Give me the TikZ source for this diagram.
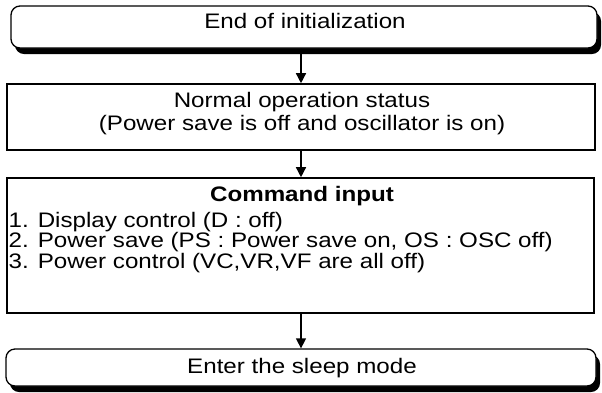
\documentclass[tikz,border=0pt]{standalone}
\usepackage{fontspec}
\setmainfont{Liberation Sans}[FakeStretch=1.15]
\usetikzlibrary{arrows.meta,shadows}

\begin{document}
\begin{tikzpicture}[x=1pt, y=-1pt, >={Triangle[width=10pt,length=10pt]},
    endbox/.style={draw, line width=1.3pt, rounded corners=9pt, fill=white,
      drop shadow={shadow xshift=4pt, shadow yshift=-6pt, fill=black, opacity=1}},
    stepbox/.style={draw, line width=1.6pt, fill=white},
    txt/.style={inner sep=0pt, font=\fontsize{21}{23}\selectfont},
    flow/.style={->, line width=1.4pt}]
    \useasboundingbox[fill=white] (0,0) rectangle (602,392);

    % boxes
    \node[endbox, minimum width=586pt, minimum height=42pt] (init) at (304,27) {};
    \node[stepbox, minimum width=588pt, minimum height=66pt] (normal) at (301,117) {};
    \node[stepbox, minimum width=587pt, minimum height=135pt] (cmd) at (300.5,245.5) {};
    \node[endbox, minimum width=590pt, minimum height=37pt] (sleep) at (301,367.5) {};

    % texts (base = last line)
    \node[txt, anchor=base] (initlabel) at (305,28) {End of initialization};
    \node[txt, anchor=base, align=center] (normallabel) at (302,130)
      {Normal operation status\\(Power save is off and oscillator is on)};
    \node[txt, anchor=base] (cmdtitle) at (302,201) {\bfseries Command input};
    \node[txt, anchor=base west, align=left, font=\fontsize{21}{20.5}\selectfont] (cmdlist) at (8.5,268)
      {1. Display control (D : off)\\
       2. Power save (PS : Power save on, OS : OSC off)\\
       3. Power control (VC,VR,VF are all off)};
    \node[txt, anchor=base] (sleeplabel) at (302,373) {Enter the sleep mode};

    % arrows
    \draw[flow] (init.south -| normal.north) -- (normal.north);
    \draw[flow] (normal.south) -- (normal.south |- cmd.north);
    \draw[flow] (normal.south |- cmd.south) -- (normal.south |- sleep.north);
\end{tikzpicture}
\end{document}
